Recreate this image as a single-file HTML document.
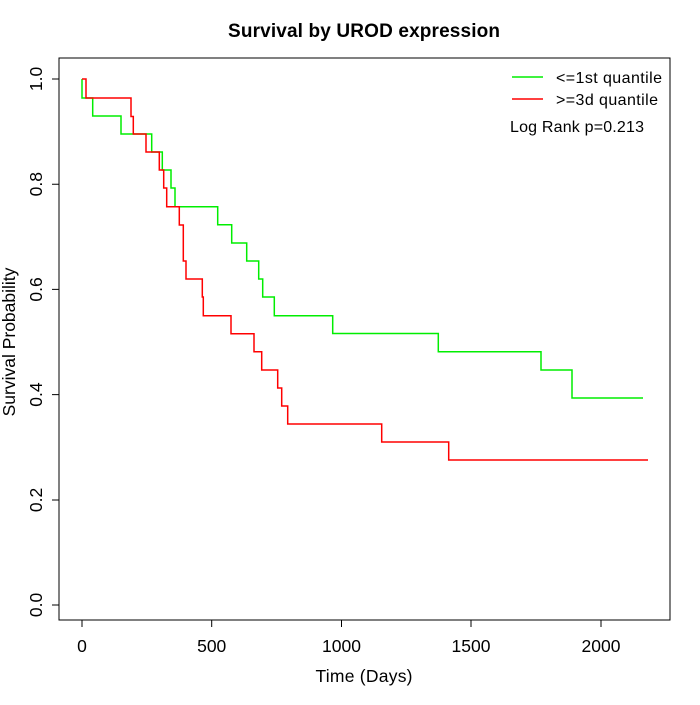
<!DOCTYPE html><html><head><style>body{margin:0;background:#fff}</style></head><body>
<svg width="700" height="700" xmlns="http://www.w3.org/2000/svg" font-family="Liberation Sans, sans-serif">
<rect x="59" y="58" width="611" height="562" fill="none" stroke="#000"/>
<text x="364" y="37" text-anchor="middle" font-weight="bold" font-size="19" textLength="272">Survival by UROD expression</text>
<g stroke="#000" fill="none"><path d="M82 620V627M211.7 620V627M341.5 620V627M471 620V627M601 620V627M82 620H601"/>
<path d="M59 605H52M59 500H52M59 394.6H52M59 289.4H52M59 184.2H52M59 79H52M59 79V605"/></g>
<g font-size="17.5" text-anchor="middle"><text x="82" y="652">0</text><text x="211.7" y="652">500</text><text x="341.5" y="652">1000</text><text x="471" y="652">1500</text><text x="601" y="652">2000</text>
<text x="364" y="682" textLength="97">Time (Days)</text>
<g transform="rotate(-90)"><text x="-605" y="42">0.0</text><text x="-500" y="42">0.2</text><text x="-394.6" y="42">0.4</text><text x="-289.4" y="42">0.6</text><text x="-184.2" y="42">0.8</text><text x="-79" y="42">1.0</text><text x="-342" y="15">Survival Probability</text></g></g>
<path fill="none" stroke="#00ee00" stroke-width="1.5" d="M82 79V98H92.7V116H121V134H151.7V152H162.3V170H171V188H175V206.7H217.7V224.7H231.7V243H246.7V261H258.7V279H262.7V297H274.3V315.7H332.7V333.5H438.3V351.7H541V370H572V398H643"/>
<path fill="none" stroke="#ff0000" stroke-width="1.5" d="M82 79H86V98H131V116.5H133.3V134H146V152H159.3V170H163.7V188H166.7V206.7H179.3V225H183.3V261H186V279H202.3V297H203.3V315.7H231V333.7H254V351.7H261.7V370H277.7V388H281.7V406H287.7V424H381.7V442H448.7V460H648"/>
<path stroke="#00ee00" stroke-width="1.5" d="M512 77H543"/><path stroke="#ff0000" stroke-width="1.5" d="M512 99H543"/>
<g font-size="16"><text x="556" y="83" textLength="106">&lt;=1st quantile</text><text x="556" y="105" textLength="102">&gt;=3d quantile</text><text x="510" y="132" textLength="134">Log Rank p=0.213</text></g>
</svg></body></html>
